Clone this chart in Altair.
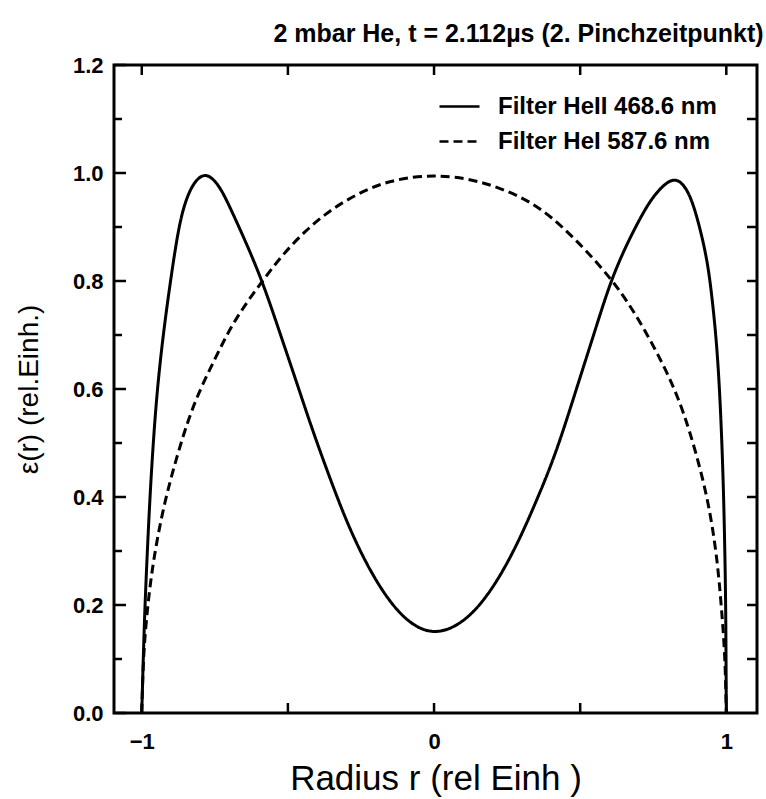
import altair as alt
import pandas as pd

# --- data ---
heii_r = [-1.0, -0.995, -0.989, -0.981, -0.972, -0.961, -0.947, -0.927, -0.902, -0.874,
          -0.85, -0.82, -0.784, -0.75, -0.72, -0.68, -0.645, -0.615, -0.587, -0.556,
          -0.525, -0.473, -0.42, -0.36, -0.30, -0.24, -0.18, -0.12, -0.06, 0.0,
          0.06, 0.12, 0.18, 0.24, 0.30, 0.36, 0.42, 0.49, 0.546, 0.575,
          0.603, 0.63, 0.66, 0.694, 0.74, 0.785, 0.82, 0.85, 0.88, 0.909,
          0.93, 0.945, 0.965, 0.977, 0.985, 0.991, 0.995, 0.998, 0.999, 1.0]
heii_s = [0.0, 0.1, 0.2, 0.3, 0.4, 0.5, 0.6, 0.7, 0.8, 0.9,
          0.95, 0.985, 1.0, 0.987, 0.962, 0.915, 0.873, 0.835, 0.797, 0.75,
          0.70, 0.617, 0.53, 0.44, 0.355, 0.285, 0.228, 0.185, 0.158, 0.148,
          0.156, 0.178, 0.215, 0.266, 0.33, 0.405, 0.485, 0.605, 0.70, 0.75,
          0.795, 0.832, 0.868, 0.905, 0.95, 0.978, 0.99, 0.982, 0.955, 0.9,
          0.85, 0.8, 0.7, 0.6, 0.5, 0.4, 0.3, 0.2, 0.1, 0.0]

hei_r = [-1.0, -0.995, -0.985, -0.97, -0.95, -0.92, -0.88, -0.84, -0.80, -0.75,
         -0.705, -0.652, -0.587, -0.52, -0.44, -0.37, -0.30, -0.22, -0.15, -0.07,
         0.0, 0.07, 0.15, 0.22, 0.30, 0.37, 0.44, 0.52, 0.612, 0.67,
         0.72, 0.77, 0.815, 0.855, 0.895, 0.935, 0.96, 0.975, 0.987, 0.996, 1.0]
hei_s = [0.0, 0.1, 0.17, 0.245, 0.315, 0.395, 0.475, 0.545, 0.6, 0.655,
         0.705, 0.752, 0.8, 0.848, 0.893, 0.925, 0.95, 0.972, 0.985, 0.993,
         0.995, 0.993, 0.985, 0.973, 0.955, 0.932, 0.9, 0.857, 0.8, 0.755,
         0.71, 0.66, 0.61, 0.555, 0.485, 0.40, 0.32, 0.25, 0.17, 0.1, 0.0]

series_names = ["Filter HeII 468.6 nm", "Filter HeI 587.6 nm"]

y_major = [0.0, 0.2, 0.4, 0.6, 0.8, 1.0, 1.2]
y_minor = [0.1, 0.3, 0.5, 0.7, 0.9, 1.1]
y_all = [0.1, 0.2, 0.3, 0.4, 0.5, 0.6, 0.7, 0.8, 0.9, 1.0, 1.1]
x_labels = [-1, 0, 1]
x_ticks = [-1.0, -0.5, 0.0, 0.5, 1.0]

title_text = "2 mbar He, t = 2.112\u00b5s (2. Pinchzeitpunkt)"
x_title = "Radius r (rel Einh )"
y_title = "\u03b5(r) (rel.Einh.)"

FONT = "Liberation Sans"
W, H = 643, 648
XDOM = [-1.095, 1.105]
YDOM = [0, 1.2]

df = pd.DataFrame({
    "r": heii_r + hei_r,
    "s": heii_s + hei_s,
    "series": [series_names[0]] * len(heii_r) + [series_names[1]] * len(hei_r),
    "order": list(range(len(heii_r))) + list(range(len(hei_r))),
})

xscale = alt.Scale(domain=XDOM, nice=False, zero=False)
yscale = alt.Scale(domain=YDOM, nice=False, zero=False)

xaxis = alt.Axis(values=x_labels, format="d", ticks=False, domain=False, grid=False,
                 labelFont=FONT, labelFontSize=22, labelFontWeight="bold",
                 labelColor="black", labelPadding=18,
                 title=x_title, titleFont=FONT, titleFontSize=35,
                 titleFontWeight="normal", titleColor="black", titlePadding=9)
yaxis = alt.Axis(values=y_major, format=".1f", ticks=False, domain=False, grid=False,
                 labelFont=FONT, labelFontSize=22, labelFontWeight="bold",
                 labelColor="black", labelPadding=11,
                 title=y_title, titleFont=FONT, titleFontSize=28,
                 titleFontWeight="normal", titleColor="black", titlePadding=29)

lines = alt.Chart(df).mark_line(color="black", strokeWidth=3, interpolate="basis").encode(
    x=alt.X("r:Q", scale=xscale, axis=xaxis, title=x_title),
    y=alt.Y("s:Q", scale=yscale, axis=yaxis, title=y_title),
    strokeDash=alt.StrokeDash(
        "series:N",
        scale=alt.Scale(domain=series_names, range=[[1, 0], [9, 5]]),
        legend=alt.Legend(title=None, orient="none", legendX=324, legendY=20,
                          symbolType="stroke", symbolSize=1600, symbolStrokeWidth=2.5,
                          symbolStrokeColor="black", labelFont=FONT, labelFontSize=24,
                          labelFontWeight="bold", labelColor="black", labelOffset=17,
                          labelLimit=600, rowPadding=1)),
    order="order:Q",
)

def tick_layer(values, chan, **enc):
    d = pd.DataFrame({"v": values})
    if chan == "y":
        return alt.Chart(d).mark_rule(color="black", strokeWidth=2.5).encode(
            y=alt.Y("v:Q", scale=yscale, axis=yaxis, title=y_title), **enc)
    return alt.Chart(d).mark_rule(color="black", strokeWidth=2.5).encode(
        x=alt.X("v:Q", scale=xscale, axis=xaxis, title=x_title), **enc)

left_major = tick_layer(y_major, "y", x=alt.value(0), x2=alt.value(12))
left_minor = tick_layer(y_minor, "y", x=alt.value(0), x2=alt.value(8))
right_ticks = tick_layer(y_all, "y", x=alt.value(W), x2=alt.value(W - 10))
bottom_ticks = tick_layer(x_ticks, "x", y=alt.value(H), y2=alt.value(H - 10))
top_ticks = tick_layer(x_ticks, "x", y=alt.value(0), y2=alt.value(10))

frame = alt.Chart(pd.DataFrame({"k": [0]})).mark_rect(
    fill=None, fillOpacity=0, stroke="black", strokeWidth=3
).encode(x=alt.value(0), x2=alt.value(W), y=alt.value(0), y2=alt.value(H))

chart = alt.layer(
    lines, left_major, left_minor, right_ticks, bottom_ticks, top_ticks, frame
).properties(
    width=W, height=H,
    autosize=alt.AutoSizeParams(type="none"),
    padding={"left": 114, "top": 65, "right": 9, "bottom": 86},
    title=alt.TitleParams(text=title_text, font=FONT, fontSize=25, fontWeight="bold",
                          color="black", anchor="middle", dx=83, offset=7),
).configure(
    background="white",
    view=alt.ViewConfig(stroke=None),
)

chart.save("out.html", embed_options={"renderer": "svg", "actions": False})
